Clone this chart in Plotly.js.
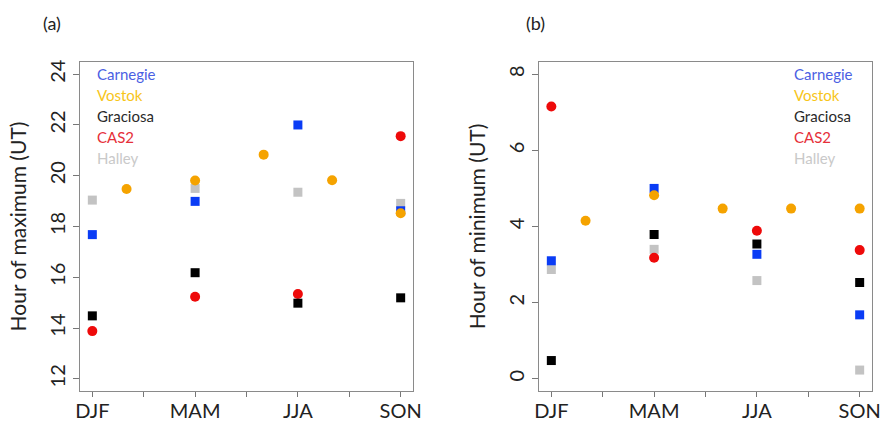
<!DOCTYPE html>
<html>
<head>
<meta charset="utf-8">
<script src="https://cdn.plot.ly/plotly-3.0.1.min.js"></script>
<style>html,body{margin:0;padding:0;background:#fff;}#chart{width:881px;height:423px;}</style>
</head>
<body>
<div id="chart"></div>
<script>
// ---- data ----
const seasonPos = [1, 2, 3, 4];
const vostokPos = [1.333, 2, 2.667, 3.333, 4];
const tickPos = [1, 1.5, 2, 2.5, 3, 3.5, 4];
const tickLabels = ["DJF", "", "MAM", "", "JJA", "", "SON"];
const stations = ["Carnegie", "Vostok", "Graciosa", "CAS2", "Halley"];

// (a) hour of maximum
const maxCarnegie = [17.68, 18.99, 22.0, 18.62];
const maxVostok   = [19.48, 19.81, 20.83, 19.82, 18.52];
const maxGraciosa = [14.48, 16.18, 14.98, 15.19];
const maxCAS2     = [13.88, 15.23, 15.34, 21.56];
const maxHalley   = [19.04, 19.50, 19.35, 18.91];

// (b) hour of minimum
const minCarnegie = [3.10, 5.00, 3.27, 1.68];
const minVostok   = [4.15, 4.82, 4.47, 4.47, 4.47];
const minGraciosa = [0.48, 3.79, 3.54, 2.53];
const minCAS2     = [7.15, 3.18, 3.89, 3.38];
const minHalley   = [2.87, 3.40, 2.58, 0.23];

// ---- styling ----
const markerColor = {Carnegie:"#0a3cf5", Vostok:"#f5a300", Graciosa:"#000000", CAS2:"#ee0a0a", Halley:"#c3c3c3"};
const textColor   = {Carnegie:"#4b5fe3", Vostok:"#f7c51a", Graciosa:"#2a2a2a", CAS2:"#e6303a", Halley:"#c9c9c9"};
const symbol      = {Carnegie:"square", Vostok:"circle", Graciosa:"square", CAS2:"circle", Halley:"square"};
const FONT = "Lato, 'Open Sans', sans-serif";

function tr(name, x, y, xa, ya) {
  return {
    type: "scatter", mode: "markers", name: name, x: x, y: y, xaxis: xa, yaxis: ya,
    showlegend: false, hoverinfo: "skip", cliponaxis: false,
    marker: {symbol: symbol[name], color: markerColor[name], size: symbol[name] === "circle" ? 10 : 9, line: {width: 0}}
  };
}

// draw order: Halley, CAS2, Graciosa, Carnegie, Vostok
const traces = [
  tr("Halley", seasonPos, maxHalley, "x", "y"),
  tr("CAS2", seasonPos, maxCAS2, "x", "y"),
  tr("Graciosa", seasonPos, maxGraciosa, "x", "y"),
  tr("Carnegie", seasonPos, maxCarnegie, "x", "y"),
  tr("Vostok", vostokPos, maxVostok, "x", "y"),
  tr("Halley", seasonPos, minHalley, "x2", "y2"),
  tr("CAS2", seasonPos, minCAS2, "x2", "y2"),
  tr("Graciosa", seasonPos, minGraciosa, "x2", "y2"),
  tr("Carnegie", seasonPos, minCarnegie, "x2", "y2"),
  tr("Vostok", vostokPos, minVostok, "x2", "y2")
];

function xaxis(domain, anchor) {
  return {
    domain: domain, anchor: anchor, range: [0.88, 4.12],
    tickmode: "array", tickvals: tickPos, ticktext: tickLabels,
    ticks: "outside", ticklen: 5, tickcolor: "#777", tickwidth: 1,
    ticklabeloverflow: "allow", ticklabelstandoff: -3,
    showline: true, linecolor: "#8a8a8a", linewidth: 1, mirror: true,
    showgrid: false, zeroline: false,
    tickfont: {family: FONT, size: 20, color: "#222"}
  };
}
function yaxis(domain, anchor, range, dtick, title) {
  return {
    domain: domain, anchor: anchor, range: range, dtick: dtick,
    ticks: "outside", ticklen: 6, tickcolor: "#777", tickwidth: 1, tickangle: -90,
    showline: true, linecolor: "#8a8a8a", linewidth: 1, mirror: true,
    showgrid: false, zeroline: false,
    tickfont: {family: FONT, size: 20, color: "#222"},
    title: {text: title, font: {family: FONT, size: 21, color: "#222"}, standoff: 12}
  };
}

const annotations = [];
function legend(xref, xfrac) {
  stations.forEach((s, i) => {
    annotations.push({
      xref: xref, yref: "paper", x: xfrac, y: 1 - (74 + 21 * i) / 423,
      xanchor: "left", yanchor: "middle", showarrow: false,
      text: s, font: {family: FONT, size: 15, color: textColor[s]}
    });
  });
}
legend("x domain", 0.045);
legend("x2 domain", 0.76);
annotations.push({xref: "paper", yref: "paper", x: 41/881, y: 1 - 23/423, xanchor: "left", yanchor: "middle",
  showarrow: false, text: "(a)", font: {family: FONT, size: 18, color: "#222"}});
annotations.push({xref: "paper", yref: "paper", x: 524/881, y: 1 - 23/423, xanchor: "left", yanchor: "middle",
  showarrow: false, text: "(b)", font: {family: FONT, size: 18, color: "#222"}});

const yDom = [1 - 391/423, 1 - 62/423];
const layout = {
  width: 881, height: 423,
  margin: {l: 0, r: 0, t: 0, b: 0},
  paper_bgcolor: "#fff", plot_bgcolor: "#fff",
  xaxis: xaxis([80/881, 413/881], "y"),
  yaxis: yaxis(yDom, "x", [11.52, 24.48], 2, "Hour of maximum (UT)"),
  xaxis2: xaxis([539/881, 872/881], "y2"),
  yaxis2: yaxis(yDom, "x2", [-0.32, 8.32], 2, "Hour of minimum (UT)"),
  annotations: annotations
};

Plotly.newPlot("chart", traces, layout, {displayModeBar: false, staticPlot: true});
</script>
</body>
</html>
